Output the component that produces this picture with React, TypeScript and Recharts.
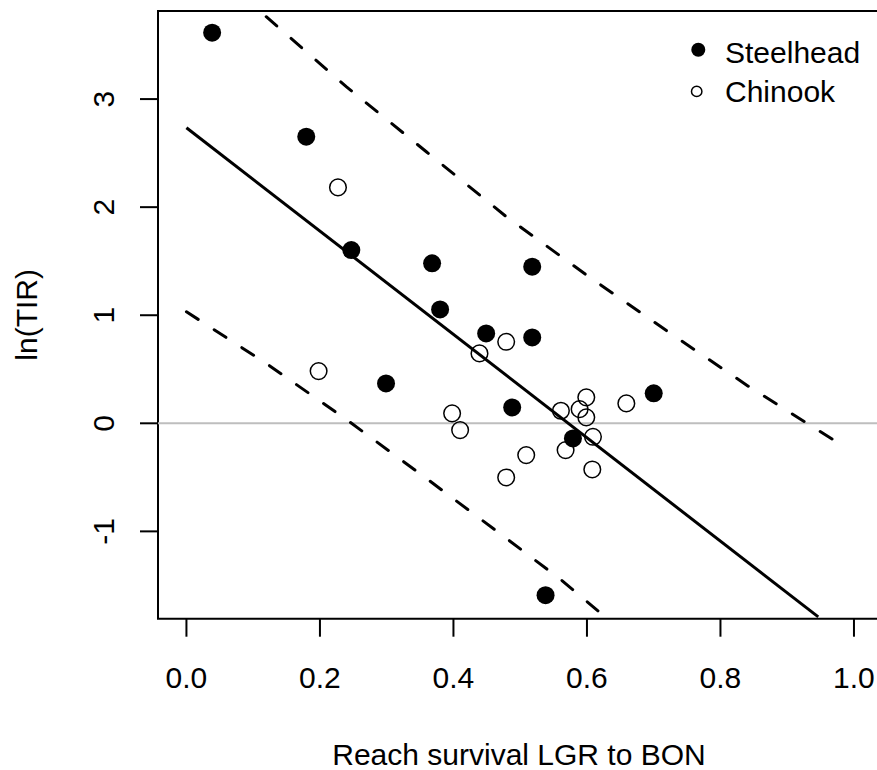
import React from 'react';
import { ComposedChart, Scatter, Line, XAxis, YAxis, ReferenceLine, ReferenceArea, Legend } from 'recharts';

// points
const steelheadX = [0.0385, 0.1795, 0.247, 0.368, 0.518, 0.38, 0.449, 0.518, 0.299, 0.488, 0.7, 0.579, 0.538];
const steelheadY = [3.614, 2.652, 1.603, 1.48, 1.449, 1.054, 0.832, 0.795, 0.369, 0.147, 0.277, -0.14, -1.59];

const chinookX = [0.227, 0.198, 0.439, 0.479, 0.398, 0.41, 0.509, 0.479, 0.561, 0.589, 0.599, 0.599, 0.609, 0.568, 0.608, 0.659];
const chinookY = [2.183, 0.483, 0.647, 0.754, 0.092, -0.063, -0.294, -0.501, 0.116, 0.131, 0.24, 0.055, -0.125, -0.248, -0.427, 0.184];

// regression line and prediction bands
const fitX = [0, 0.9465];
const fitY = [2.735, -1.791];
const upperX = [0.1195, 0.2394, 0.3594, 0.4793, 0.5993, 0.7216, 0.8415, 0.9816];
const upperY = [3.762, 3.115, 2.513, 1.911, 1.372, 0.847, 0.344, -0.202];
const lowerX = [0, 0.1195, 0.2394, 0.3594, 0.4793, 0.5618, 0.6241];
const lowerY = [1.032, 0.554, 0.036, -0.51, -1.065, -1.451, -1.775];

const xTicks = [0, 0.2, 0.4, 0.6, 0.8, 1.0];
const yTicks = [-1, 0, 1, 2, 3];

const X_DOMAIN = [-0.0426, 1.039];
const Y_DOMAIN = [-1.808, 3.815];
const FONT = "'Liberation Sans', Arial, Helvetica, sans-serif";

const zip = (xs: number[], ys: number[]) => xs.map((x, i) => ({ x, y: ys[i] }));

const steelhead = zip(steelheadX, steelheadY);
const chinook = zip(chinookX, chinookY);
const fit = zip(fitX, fitY);
const upper = zip(upperX, upperY);
const lower = zip(lowerX, lowerY);

function XTick({ x, y, payload }: any) {
  return (
    <text x={x} y={y} dy={21} textAnchor="middle" fontSize={30} fill="#000" fontFamily={FONT}>
      {Number(payload.value).toFixed(1)}
    </text>
  );
}

function YTick({ x, y, payload }: any) {
  return (
    <text x={x} y={y} transform={`rotate(-90, ${x}, ${y})`} textAnchor="middle" fontSize={30} fill="#000" fontFamily={FONT}>
      {String(payload.value)}
    </text>
  );
}

const FilledDot = (props: any) => <circle cx={props.cx} cy={props.cy} r={9} fill="#000" />;
const OpenDot = (props: any) => <circle cx={props.cx} cy={props.cy} r={8.3} fill="none" stroke="#000" strokeWidth={1.5} />;

const renderLegend = () => (
  <div style={{ fontFamily: FONT, fontSize: 30, color: '#000', lineHeight: '39px' }}>
    <div style={{ display: 'flex', height: 39 }}>
      <svg width={39} height={39}>
        <circle cx={12.3} cy={16.7} r={7} fill="#000" />
      </svg>
      <span>Steelhead</span>
    </div>
    <div style={{ display: 'flex', height: 39 }}>
      <svg width={39} height={39}>
        <circle cx={10.7} cy={19.4} r={5.2} fill="none" stroke="#000" strokeWidth={1.5} />
      </svg>
      <span>Chinook</span>
    </div>
  </div>
);

export default function App() {
  return (
    <div style={{ position: 'absolute', left: 0, top: 0, width: 877, height: 770, overflow: 'hidden', background: '#fff' }}>
      <ComposedChart width={890} height={770} margin={{ top: 11, right: 10, bottom: 0, left: 0 }} style={{ fontFamily: FONT }}>
        <XAxis
          type="number"
          dataKey="x"
          domain={X_DOMAIN}
          ticks={xTicks}
          allowDataOverflow
          axisLine={false}
          tickLine={{ stroke: '#000', strokeWidth: 2 }}
          tickSize={18}
          tickMargin={30}
          tick={<XTick />}
          height={151.3}
          label={{
            content: (props: any) => {
              const vb = props.viewBox;
              return (
                <text x={vb.x + vb.width / 2} y={vb.y + vb.height - 5.5} textAnchor="middle" fontSize={30} fill="#000" fontFamily={FONT}>
                  Reach survival LGR to BON
                </text>
              );
            },
          }}
        />
        <YAxis
          type="number"
          dataKey="y"
          domain={Y_DOMAIN}
          ticks={yTicks}
          allowDataOverflow
          axisLine={false}
          tickLine={{ stroke: '#000', strokeWidth: 2 }}
          tickSize={18}
          tickMargin={26}
          tick={<YTick />}
          width={158}
          label={{
            content: (props: any) => {
              const vb = props.viewBox;
              const cy = vb.y + vb.height / 2;
              return (
                <text x={37} y={cy} transform={`rotate(-90, 37, ${cy})`} textAnchor="middle" fontSize={30} fill="#000" fontFamily={FONT}>
                  ln(TIR)
                </text>
              );
            },
          }}
        />
        <ReferenceLine y={0} stroke="#bebebe" strokeWidth={2} />
        <ReferenceArea
          x1={X_DOMAIN[0]}
          x2={X_DOMAIN[1]}
          y1={Y_DOMAIN[0]}
          y2={Y_DOMAIN[1]}
          fill="none"
          fillOpacity={0}
          stroke="#000"
          strokeWidth={2}
          ifOverflow="visible"
        />
        <Line data={fit} dataKey="y" type="linear" stroke="#000" strokeWidth={3} dot={false} activeDot={false} isAnimationActive={false} />
        <Line data={upper} dataKey="y" type="linear" stroke="#000" strokeWidth={3} strokeDasharray="14 19" strokeLinecap="round" dot={false} activeDot={false} isAnimationActive={false} />
        <Line data={lower} dataKey="y" type="linear" stroke="#000" strokeWidth={3} strokeDasharray="14 19" strokeLinecap="round" dot={false} activeDot={false} isAnimationActive={false} />
        <Scatter name="Steelhead" data={steelhead} shape={FilledDot} isAnimationActive={false} />
        <Scatter name="Chinook" data={chinook} shape={OpenDot} isAnimationActive={false} />
        <Legend
          layout="vertical"
          align="center"
          verticalAlign="middle"
          content={renderLegend}
          wrapperStyle={{ position: 'absolute', left: 686, top: 33, width: 190, height: 80 }}
        />
      </ComposedChart>
    </div>
  );
}
